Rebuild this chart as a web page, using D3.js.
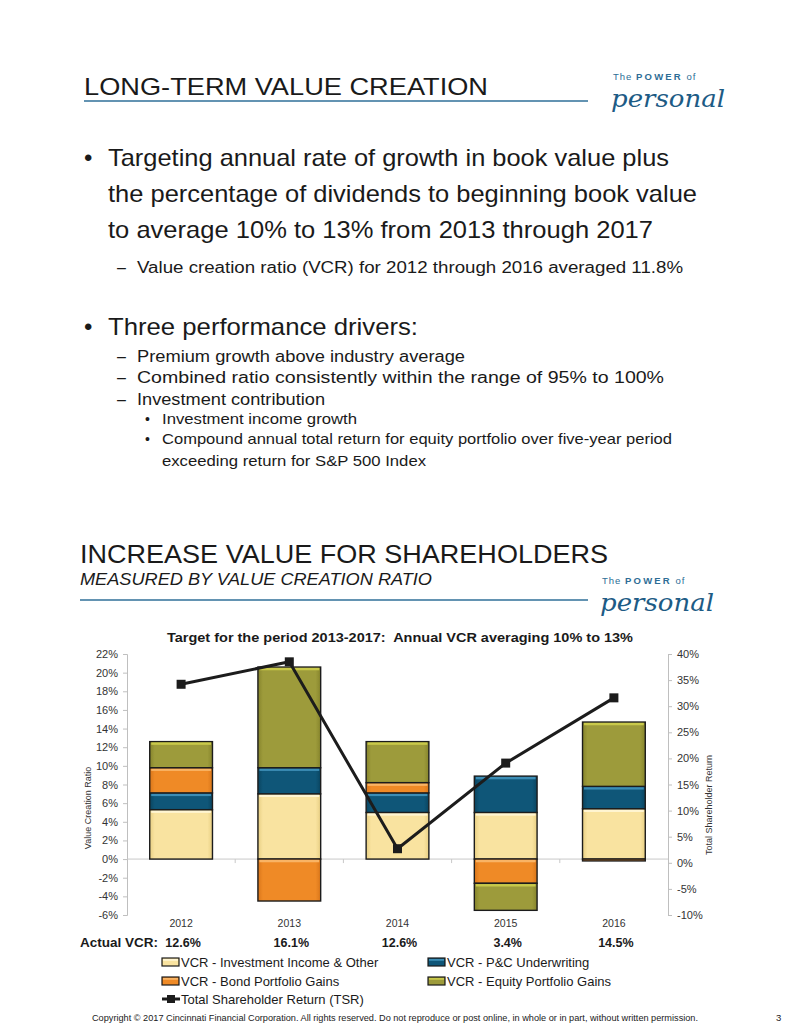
<!DOCTYPE html>
<html><head><meta charset="utf-8">
<script src="https://cdn.jsdelivr.net/npm/d3@7"></script>
<style>
html,body{margin:0;padding:0;background:#fff;}
svg{display:block;font-family:"Liberation Sans",Arial,Helvetica,sans-serif;}
</style></head>
<body>
<svg id="c" width="799" height="1034"></svg>
<script>
// ---------- DATA ----------
const years = ["2012","2013","2014","2015","2016"];
const vcrInvestment = [5.3, 7.0, 5.0, 5.0, 5.4];
const vcrUnderwriting = [1.8, 2.8, 2.1, 3.9, 2.4];
const vcrBond = [2.7, -4.5, 1.1, -2.6, -0.2];
const vcrEquity = [2.8, 10.8, 4.4, -2.9, 6.9];
const tsr = [34.2, 38.5, 2.7, 19.1, 31.6];
const actualVCR = ["12.6%","16.1%","12.6%","3.4%","14.5%"];
const leftTicks = [-6,-4,-2,0,2,4,6,8,10,12,14,16,18,20,22];
const rightTicks = [-10,-5,0,5,10,15,20,25,30,35,40];
const seriesNames = ["VCR - Investment Income & Other","VCR - P&C Underwriting","VCR - Bond Portfolio Gains","VCR - Equity Portfolio Gains"];
const lineName = "Total Shareholder Return (TSR)";
const chartTitle = "Target for the period 2013-2017:\u00a0 Annual VCR averaging 10% to 13%";

const svg = d3.select("#c");
const blue = "#2f6f98";

// ---------- helpers ----------
function txt(x, y, s, size, opts={}) {
  const t = svg.append("text").attr("x", x).attr("y", y).text(s)
    .attr("font-size", size).attr("fill", opts.fill || "#222");
  if (opts.weight) t.attr("font-weight", opts.weight);
  if (opts.italic) t.attr("font-style", "italic");
  if (opts.anchor) t.attr("text-anchor", opts.anchor);
  if (opts.width) t.attr("textLength", opts.width).attr("lengthAdjust", "spacingAndGlyphs");
  if (opts.family) t.attr("font-family", opts.family);
  return t;
}
function logo(x, y) {
  const g = svg.append("g").attr("transform", `translate(${x},${y})`);
  const t = g.append("text").attr("x", 2).attr("y", 0).attr("font-size", 9.5).attr("fill", "#2d6d96").attr("letter-spacing", 1);
  t.append("tspan").text("The ");
  t.append("tspan").attr("font-weight", "bold").attr("letter-spacing", 2.2).text("POWER");
  t.append("tspan").text(" of");
  g.append("text").attr("x", 0).attr("y", 27).attr("font-size", 25).attr("font-style", "italic")
    .attr("font-family", "'DejaVu Serif', serif").attr("fill", "#1d5b85")
    .attr("textLength", 114).attr("lengthAdjust", "spacingAndGlyphs").text("personal");
}

// ---------- Slide text, top half ----------
txt(84, 95, "LONG-TERM VALUE CREATION", 24, {width: 404, fill: "#1a1a1a"});
svg.append("line").attr("x1", 84).attr("x2", 588).attr("y1", 101).attr("y2", 101).attr("stroke", blue).attr("stroke-width", 1.5);
logo(611, 80);

txt(84, 166, "•", 24, {fill: "#1a1a1a"});
txt(108, 166, "Targeting annual rate of growth in book value plus", 24, {width: 561, fill: "#1a1a1a"});
txt(108, 202, "the percentage of dividends to beginning book value", 24, {width: 589, fill: "#1a1a1a"});
txt(108, 238, "to average 10% to 13% from 2013 through 2017", 24, {width: 545, fill: "#1a1a1a"});
txt(117, 273, "–", 16, {fill: "#1a1a1a"});
txt(137, 273, "Value creation ratio (VCR) for 2012 through 2016 averaged 11.8%", 16, {width: 546, fill: "#1a1a1a"});

txt(84, 335, "•", 24, {fill: "#1a1a1a"});
txt(108, 335, "Three performance drivers:", 24, {width: 310, fill: "#1a1a1a"});
txt(117, 362, "–", 16, {fill: "#1a1a1a"});
txt(137, 362, "Premium growth above industry average", 16, {width: 328, fill: "#1a1a1a"});
txt(117, 383, "–", 16, {fill: "#1a1a1a"});
txt(137, 383, "Combined ratio consistently within the range of 95% to 100%", 16, {width: 527, fill: "#1a1a1a"});
txt(117, 405, "–", 16, {fill: "#1a1a1a"});
txt(137, 405, "Investment contribution", 16, {width: 188, fill: "#1a1a1a"});
txt(145, 424, "•", 14, {fill: "#1a1a1a"});
txt(162, 424, "Investment income growth", 14.5, {width: 195, fill: "#1a1a1a"});
txt(145, 444, "•", 14, {fill: "#1a1a1a"});
txt(162, 444, "Compound annual total return for equity portfolio over five-year period", 14.5, {width: 510, fill: "#1a1a1a"});
txt(162, 466, "exceeding return for S&P 500 Index", 14.5, {width: 264, fill: "#1a1a1a"});

// ---------- second header ----------
txt(80, 563, "INCREASE VALUE FOR SHAREHOLDERS", 26, {width: 528, fill: "#1a1a1a"});
txt(80, 585, "MEASURED BY VALUE CREATION RATIO", 16, {width: 352, fill: "#1a1a1a", italic: true});
svg.append("line").attr("x1", 80).attr("x2", 588).attr("y1", 600).attr("y2", 600).attr("stroke", blue).attr("stroke-width", 1.5);
logo(600, 584);

// ---------- Chart ----------
const X0 = 127, X1 = 668, YT = 654, YB = 915;
const x = d3.scaleBand().domain(years).range([X0, X1]).paddingInner(0.42).paddingOuter(0.21);
const yL = d3.scaleLinear().domain([-6, 22]).range([YB, YT]);
const yR = d3.scaleLinear().domain([-10, 40]).range([YB, YT]);

txt(400, 642, chartTitle, 13.5, {anchor: "middle", weight: "bold", fill: "#1a1a1a", width: 466});

const rows = years.map((y, i) => ({year: y, inv: vcrInvestment[i], pc: vcrUnderwriting[i], bond: vcrBond[i], eq: vcrEquity[i]}));
const keys = ["inv", "pc", "bond", "eq"];
const stack = d3.stack().keys(keys).offset(d3.stackOffsetDiverging)(rows);
const colors = {inv: "#f9e3a0", pc: "#0f5678", bond: "#ef8a26", eq: "#9d9b3b"};
const hi = {inv: "#fff5d2", pc: "#3c8db5", bond: "#f9b465", eq: "#c9c94a"};
const lo = {inv: "#e8cf83", pc: "#0a4560", bond: "#d9761a", eq: "#86842c"};

const defs = svg.append("defs");
keys.forEach(k => {
  const g = defs.append("linearGradient").attr("id", "g_" + k).attr("x1", 0).attr("x2", 1).attr("y1", 0).attr("y2", 0);
  g.append("stop").attr("offset", "0%").attr("stop-color", lo[k]);
  g.append("stop").attr("offset", "8%").attr("stop-color", colors[k]);
  g.append("stop").attr("offset", "92%").attr("stop-color", colors[k]);
  g.append("stop").attr("offset", "100%").attr("stop-color", lo[k]);
});

// axes
const axL = svg.append("g").attr("transform", `translate(${X0},0)`)
  .call(d3.axisLeft(yL).tickValues(leftTicks).tickFormat(d => d + "%").tickSize(4).tickPadding(5));
const axR = svg.append("g").attr("transform", `translate(${X1},0)`)
  .call(d3.axisRight(yR).tickValues(rightTicks).tickFormat(d => d + "%").tickSize(4).tickPadding(5));
[axL, axR].forEach(a => {
  a.select(".domain").attr("stroke", "#bfbfbf");
  a.selectAll(".tick line").attr("stroke", "#bfbfbf");
  a.selectAll("text").attr("font-size", 11).attr("fill", "#333").attr("font-family", "'Liberation Sans',Arial,sans-serif");
});

// zero line with category ticks
const zy = yL(0);
svg.append("line").attr("x1", X0).attr("x2", X1).attr("y1", zy).attr("y2", zy).attr("stroke", "#c8c8c8").attr("stroke-width", 1);
const step = x.step();
d3.range(1, years.length).forEach(i => {
  const bx = X0 + x.paddingOuter() * step - x.paddingInner() * step / 2 + i * step;
  svg.append("line").attr("x1", bx).attr("x2", bx).attr("y1", zy).attr("y2", zy + 4).attr("stroke", "#c8c8c8");
});

// axis titles
svg.append("text").attr("transform", `translate(91,808) rotate(-90)`).attr("text-anchor", "middle")
  .attr("font-size", 9).attr("fill", "#333").text("Value Creation Ratio");
svg.append("text").attr("transform", `translate(712,805) rotate(-90)`).attr("text-anchor", "middle")
  .attr("font-size", 9).attr("fill", "#333").text("Total Shareholder Return");

// bars
const bw = x.bandwidth();
stack.forEach(s => {
  const k = s.key;
  const g = svg.append("g");
  s.forEach(d => {
    const top = yL(Math.max(d[0], d[1])), bot = yL(Math.min(d[0], d[1]));
    if (bot - top < 0.01) return;
    const bx = x(d.data.year);
    g.append("rect").attr("x", bx).attr("y", top).attr("width", bw).attr("height", bot - top)
      .attr("fill", `url(#g_${k})`).attr("stroke", "#1c1c1c").attr("stroke-width", 1.4);
    if (bot - top > 5) {
      g.append("rect").attr("x", bx + 1.5).attr("y", top + 0.8).attr("width", bw - 3).attr("height", 2.4)
        .attr("fill", hi[k]);
    }
  });
});

// TSR line
const pts = years.map((y, i) => [x(y) + bw / 2, yR(tsr[i])]);
svg.append("path").attr("d", d3.line()(pts)).attr("fill", "none").attr("stroke", "#1c1c1c").attr("stroke-width", 3).attr("stroke-linejoin", "round");
svg.selectAll(".mk").data(pts).enter().append("rect").attr("class", "mk")
  .attr("x", d => d[0] - 4.5).attr("y", d => d[1] - 4.5).attr("width", 9).attr("height", 9).attr("fill", "#1c1c1c");

// category labels
years.forEach(y => txt(x(y) + bw / 2, 927, y, 10.5, {anchor: "middle", fill: "#333"}));

// Actual VCR
txt(80, 947, "Actual VCR:", 12.5, {weight: "bold", fill: "#1a1a1a", width: 78});
years.forEach((y, i) => txt(x(y) + bw / 2 + 2, 947, actualVCR[i], 12.5, {anchor: "middle", weight: "bold", fill: "#1a1a1a"}));

// legend
const legPos = [[162, 962], [428, 962], [162, 981], [428, 981]];
keys.forEach((k, i) => {
  const [lx, ly] = legPos[i];
  svg.append("rect").attr("x", lx).attr("y", ly - 4).attr("width", 17).attr("height", 8)
    .attr("fill", `url(#g_${k})`).attr("stroke", "#1c1c1c").attr("stroke-width", 1.2);
  svg.append("rect").attr("x", lx + 1).attr("y", ly - 3).attr("width", 15).attr("height", 1.8).attr("fill", hi[k]);
  txt(lx + 19, ly + 5, seriesNames[i], 13, {fill: "#1a1a1a"});
});
svg.append("line").attr("x1", 162).attr("x2", 180).attr("y1", 999).attr("y2", 999).attr("stroke", "#1c1c1c").attr("stroke-width", 3);
svg.append("rect").attr("x", 167).attr("y", 995).attr("width", 8).attr("height", 8).attr("fill", "#1c1c1c");
txt(181, 1004, lineName, 13, {fill: "#1a1a1a"});

// footer
txt(92, 1021, "Copyright © 2017 Cincinnati Financial Corporation. All rights reserved. Do not reproduce or post online, in whole or in part, without written permission.", 9.5, {fill: "#1a1a1a", width: 606});
txt(776, 1021, "3", 9.5, {fill: "#1a1a1a"});
</script>
</body></html>
